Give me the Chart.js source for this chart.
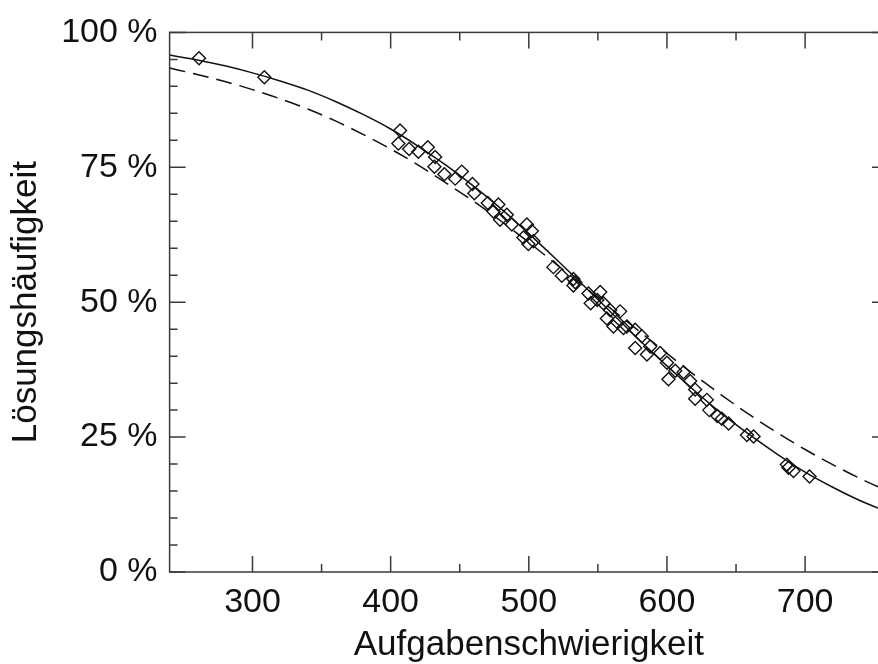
<!DOCTYPE html>
<html>
<head>
<meta charset="utf-8">
<script src="https://cdn.jsdelivr.net/npm/chart.js@4"></script>
<style>
  html, body { margin: 0; padding: 0; background: #fff; overflow: hidden; }
  #wrap { width: 900px; height: 664px; }
</style>
</head>
<body>
<div id="wrap"><canvas id="myChart"></canvas></div>
<script>
// Aufgabenschwierigkeit / Lösungshäufigkeit of the single items
let itemX = [261.3, 308.6,
    406.8, 405.6, 413.4, 420.1, 426.9, 432.2, 431.7, 438.9, 451.5, 446.7, 459.2, 460.6,
    470.3, 478.0, 474.4, 484.1, 479.2, 487.7, 498.6, 502.2, 496.1, 499.7, 503.4,
    517.8, 523.9, 532.3, 532.3, 533.6, 543.2, 551.7, 544.8, 549.6, 554.0, 558.9, 566.1,
    556.5, 563.7, 571.0, 577.0, 561.3, 568.5,
    581.8, 577.0, 587.9, 585.5, 595.1, 600.0, 606.0, 601.1, 612.0, 616.8, 620.4, 620.4,
    628.9, 630.6, 636.5, 639.7, 644.6, 657.9, 662.7, 686.8, 688.0, 691.6, 703.2];
let itemY = [95.2, 91.7,
    81.8, 79.4, 78.4, 77.9, 78.7, 76.9, 75.1, 73.7, 74.2, 72.9, 71.9, 70.2,
    68.4, 68.1, 66.8, 66.2, 65.3, 64.4, 64.4, 63.2, 62.0, 60.8, 61.3,
    56.5, 54.9, 54.3, 53.1, 53.7, 51.6, 51.9, 49.8, 50.4, 49.8, 48.5, 48.3,
    47.0, 46.4, 45.5, 44.9, 45.5, 45.2,
    43.7, 41.5, 41.8, 40.3, 40.6, 38.8, 37.3, 35.7, 37.0, 35.4, 33.8, 32.1,
    31.9, 30.0, 28.9, 28.4, 27.5, 25.4, 25.1, 19.9, 19.3, 18.7, 17.7];

// the two curves, every 20 units
let curveX = [240, 260, 280, 300, 320, 340, 360, 380, 400, 420, 440, 460, 480, 500,
    520, 540, 560, 580, 600, 620, 640, 660, 680, 700, 720, 740, 760];
let solidY = [95.8, 94.9, 93.8, 92.5, 91.0, 89.3, 87.2, 84.8, 82.1, 78.9, 75.4, 71.5, 67.3, 62.7,
    57.9, 53.0, 48.0, 43.0, 38.2, 33.6, 29.3, 25.4, 21.8, 18.5, 15.7, 13.2, 11.1];
let dashedY = [93.4, 92.2, 90.9, 89.4, 87.7, 85.8, 83.6, 81.1, 78.4, 75.4, 72.1, 68.7, 65.0, 61.1,
    57.0, 52.9, 48.7, 44.6, 40.5, 36.5, 32.7, 29.1, 25.8, 22.7, 19.9, 17.3, 15.0];

let xMin = 240, xMax = 760;
let yTickLabels = ["0 %", "25 %", "50 %", "75 %", "100 %"];

let axisColor = "#3a3a3a";
let fontName = "'Liberation Sans', Arial, sans-serif";

let innerTicks = {
    id: "innerTicks",
    afterDatasetsDraw(chart) {
        let ctx = chart.ctx;
        let a = chart.chartArea;
        let x = chart.scales.x, y = chart.scales.y;
        ctx.save();
        ctx.strokeStyle = axisColor;
        ctx.lineWidth = 1.5;
        ctx.strokeRect(a.left, a.top, a.right - a.left, a.bottom - a.top);
        ctx.beginPath();
        x.ticks.forEach(t => {
            if (t.value % 50 !== 0) return;
            let px = x.getPixelForValue(t.value);
            let len = t.value % 100 === 0 ? 16 : 8;
            ctx.moveTo(px, a.bottom); ctx.lineTo(px, a.bottom - len);
            ctx.moveTo(px, a.top); ctx.lineTo(px, a.top + len);
        });
        y.ticks.forEach(t => {
            let py = y.getPixelForValue(t.value);
            let len = t.value % 25 === 0 ? 16 : 8;
            ctx.moveTo(a.left, py); ctx.lineTo(a.left + len, py);
            ctx.moveTo(a.right, py); ctx.lineTo(a.right - len, py);
        });
        ctx.stroke();
        ctx.restore();
    }
};

let myChart = document.getElementById("myChart").getContext("2d");

let itemChart = new Chart(myChart, {
    type: "scatter",
    data: {
        datasets: [
            {
                label: "Items",
                data: itemX.map((v, i) => ({ x: v, y: itemY[i] })),
                pointStyle: "rectRot",
                pointRadius: 6.5,
                pointBorderWidth: 1.4,
                borderColor: "#111",
                backgroundColor: "rgba(0,0,0,0)",
                showLine: false
            },
            {
                type: "line",
                label: "Modell",
                data: curveX.map((v, i) => ({ x: v, y: solidY[i] })),
                borderColor: "#111",
                borderWidth: 1.5,
                pointRadius: 0,
                cubicInterpolationMode: "monotone",
                fill: false
            },
            {
                type: "line",
                label: "Modell 2",
                data: curveX.map((v, i) => ({ x: v, y: dashedY[i] })),
                borderColor: "#111",
                borderWidth: 1.5,
                borderDash: [16, 8],
                pointRadius: 0,
                cubicInterpolationMode: "monotone",
                fill: false
            }
        ]
    },
    options: {
        responsive: true,
        maintainAspectRatio: false,
        animation: false,
        events: [],
        layout: { padding: { top: 25.5, right: 12, left: 0, bottom: 0 } },
        plugins: { legend: { display: false }, tooltip: { enabled: false } },
        scales: {
            x: {
                type: "linear",
                min: xMin,
                max: xMax,
                afterFit: s => { s.height = 92; },
                grid: { display: false, drawTicks: false },
                border: { display: false },
                ticks: {
                    stepSize: 50,
                    autoSkip: false,
                    maxRotation: 0,
                    padding: 10,
                    color: "#111",
                    font: { family: fontName, size: 34 },
                    callback: v => (v % 100 === 0 ? String(v) : "")
                },
                title: {
                    display: true,
                    text: "Aufgabenschwierigkeit",
                    color: "#111",
                    font: { family: fontName, size: 35, lineHeight: 1 },
                    padding: { top: 0, bottom: 1.5 }
                }
            },
            y: {
                type: "linear",
                min: 0,
                max: 100,
                afterFit: s => { s.width = 169.6; },
                grid: { display: false, drawTicks: false },
                border: { display: false },
                ticks: {
                    stepSize: 5,
                    autoSkip: false,
                    padding: 12,
                    color: "#111",
                    font: { family: fontName, size: 34 },
                    callback: v => (v % 25 === 0 ? yTickLabels[v / 25] : "")
                },
                title: {
                    display: true,
                    text: "Lösungshäufigkeit",
                    color: "#111",
                    font: { family: fontName, size: 35, lineHeight: 1 },
                    padding: { top: 9, bottom: 0 }
                }
            }
        }
    },
    plugins: [innerTicks]
});
</script>
</body>
</html>
